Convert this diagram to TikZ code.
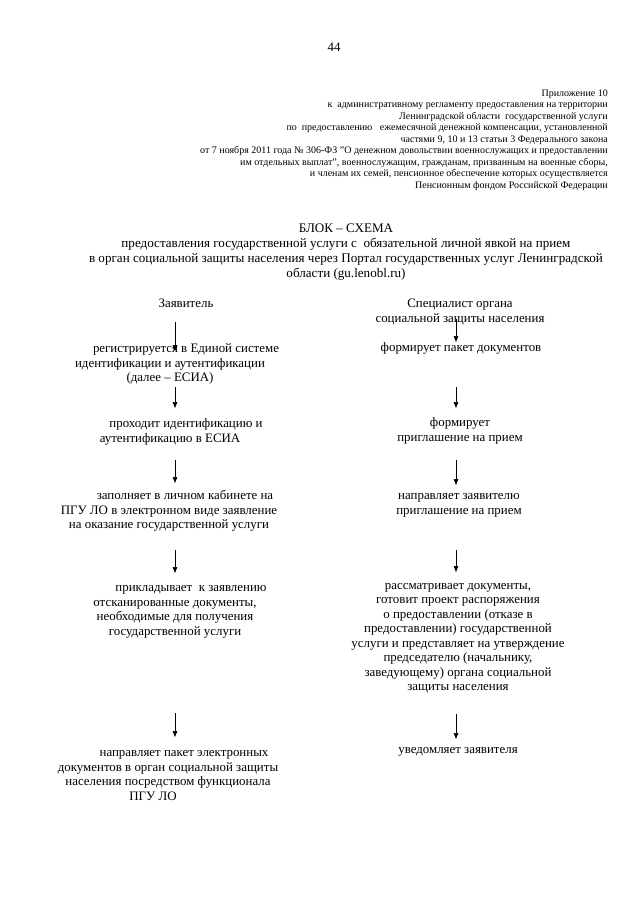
\documentclass[tikz,border=0pt]{standalone}
\usepackage{fontspec}
\setmainfont{Liberation Serif}
\usetikzlibrary{arrows.meta}
\tikzset{
  txt/.style={anchor=base, align=center, inner sep=0pt, font=\fontsize{12.9}{14.5}\selectfont},
  ttl/.style={txt, font=\fontsize{13.1}{14.7}\selectfont},
  hdr/.style={anchor=base east, align=right, inner sep=0pt, font=\fontsize{10}{11.5}\selectfont},
  arr/.style={-{Triangle[length=6pt,width=4.5pt]}, line width=0.7pt},
}
\newcommand{\ind}{\hspace*{32pt}}
\begin{document}
\begin{tikzpicture}[x=1pt, y=-1pt]
\useasboundingbox (0,0) rectangle (640,905);
% Page header (nodes sit on the baseline of their last line)
\node[txt] (page) at (334,51) {44};
\node[hdr] (annex) at (608,188) {Приложение 10\\
к\ \ административному регламенту предоставления на территории\\
Ленинградской области\ \ государственной услуги\\
по\ \ предоставлению\ \ \ ежемесячной денежной компенсации, установленной\\
частями 9, 10 и 13 статьи 3 Федерального закона\\
от 7 ноября 2011 года № 306-ФЗ "О денежном довольствии военнослужащих и предоставлении\\
им отдельных выплат", военнослужащим, гражданам, призванным на военные сборы,\\
и членам их семей, пенсионное обеспечение которых осуществляется\\
Пенсионным фондом Российской Федерации};
% Title
\node[ttl] (title) at (346,277) {БЛОК -- СХЕМА\\
предоставления государственной услуги с\ \ обязательной личной явкой на прием\\
в орган социальной защиты населения через Портал государственных услуг Ленинградской\\
области (gu.lenobl.ru)};
% Columns
\coordinate (colL) at (175,0);
\coordinate (colR) at (456,0);
% Applicant
\node[txt] (zaj) at (170,307.5) {\ind Заявитель};
\node[txt] (reg) at (170,381.5) {\ind регистрируется в Единой системе\\
идентификации и аутентификации\\ (далее -- ЕСИА)};
\node[txt] (pro) at (170,442) {\ind проходит идентификацию и\\ аутентификацию в ЕСИА};
\node[txt] (zap) at (169,528.5) {\ind заполняет в личном кабинете на\\
ПГУ ЛО в электронном виде заявление\\ на оказание государственной услуги};
\node[txt] (pri) at (175,635) {\ind прикладывает\ \ к заявлению\\ отсканированные документы,\\
необходимые для получения\\ государственной услуги};
\node[txt] (nap) at (168,800) {\ind направляет пакет электронных\\
документов в орган социальной защиты\\ населения посредством функционала\\
ПГУ ЛО\hspace*{30pt}};
% Specialist
\node[txt] (spec) at (460,322) {Специалист органа\\ социальной защиты населения};
\node[txt] (pak) at (461,351.5) {формирует пакет документов};
\node[txt] (inv) at (460,441) {формирует\\ приглашение на прием};
\node[txt] (send) at (459,514) {направляет заявителю\\ приглашение на прием};
\node[txt] (ras) at (458,690.5) {рассматривает документы,\\ готовит проект распоряжения\\
о предоставлении (отказе в\\ предоставлении) государственной\\
услуги и представляет на утверждение\\ председателю (начальнику,\\
заведующему) органа социальной\\ защиты населения};
\node[txt] (uved) at (458,753.5) {уведомляет заявителя};
% Arrows, left
\draw[arr] ([yshift=-14.5pt]zaj.base -| colL) -- ([yshift=30.5pt]reg.base -| colL);
\draw[arr] ([yshift=-5.5pt]reg.base -| colL) -- ([yshift=34pt]pro.base -| colL);
\draw[arr] ([yshift=-18pt]pro.base -| colL) -- ([yshift=45.5pt]zap.base -| colL);
\draw[arr] ([yshift=-21.5pt]zap.base -| colL) -- ([yshift=62pt]pri.base -| colL);
\draw[arr] ([yshift=-78pt]pri.base -| colL) -- ([yshift=63pt]nap.base -| colL);
% Arrows, right
\draw[arr] ([yshift=3.5pt]spec.base -| colR) -- ([yshift=9.5pt]pak.base -| colR);
\draw[arr] ([yshift=-35.5pt]pak.base -| colR) -- ([yshift=33pt]inv.base -| colR);
\draw[arr] ([yshift=-19pt]inv.base -| colR) -- ([yshift=29pt]send.base -| colR);
\draw[arr] ([yshift=-36pt]send.base -| colR) -- ([yshift=118.5pt]ras.base -| colR);
\draw[arr] ([yshift=-23.5pt]ras.base -| colR) -- ([yshift=14.5pt]uved.base -| colR);
\end{tikzpicture}
\end{document}
